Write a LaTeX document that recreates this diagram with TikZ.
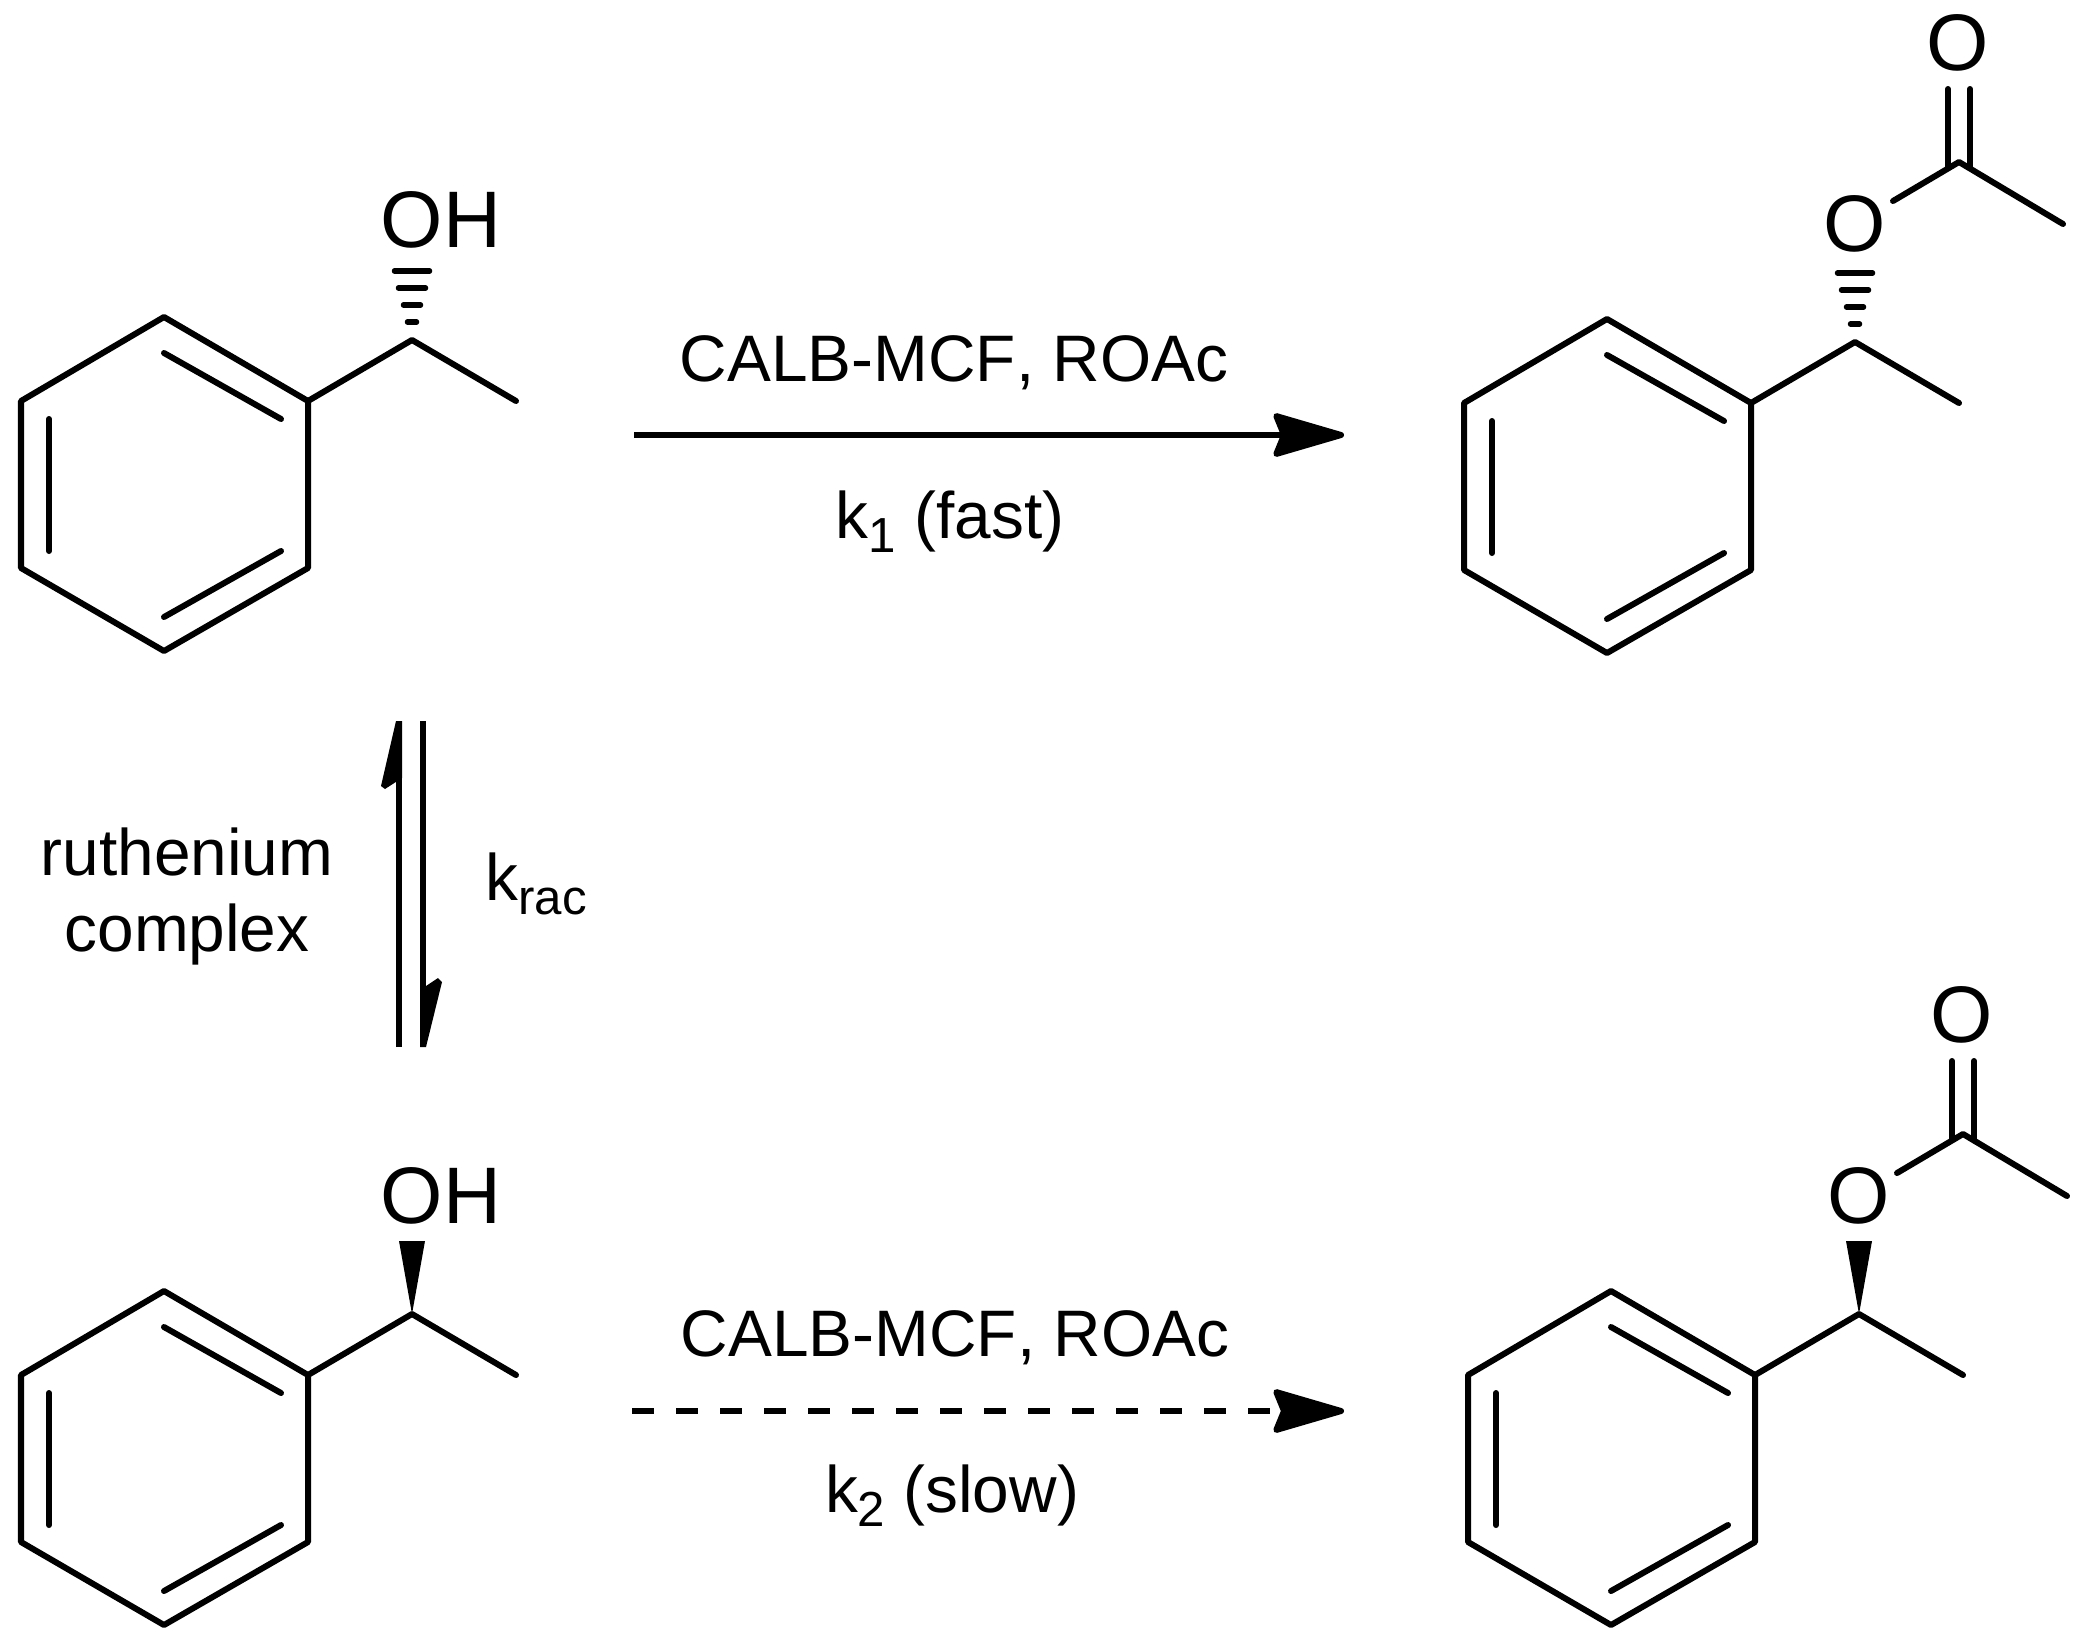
\documentclass[tikz,border=0pt]{standalone}
\usepackage{fontspec}
\setmainfont[Kerning=Off]{Liberation Sans}
\usetikzlibrary{arrows.meta,%
		calc}
\newcommand{\lowtxt}[1]{\raisebox{-.22em}{\fontsize{14}{14}\selectfont #1}}

\begin{document}
\begin{tikzpicture}[x=.01cm,y=-.01cm,
	bond/.style={line width=.06cm,line cap=round,line join=round},
	hashbar/.style={line width=.055cm,line cap=round},
	wedge/.style={fill=black,draw=none},
	atomlabel/.style={font=\fontsize{22.8}{24}\selectfont,inner sep=0pt},
	txtlabel/.style={font=\fontsize{18.7}{24}\selectfont,inner sep=0pt,anchor=base},
	react/.style={line width=.06cm,-{Stealth[length=.8cm,width=.46cm,inset=.09cm,round]}}]
\useasboundingbox (0,0) rectangle (2088,1648);

% ring and side chain
\foreach \dx/\dy in {0/0,1443/2,0/974,1447/974}
{
\begin{scope}[shift={(\dx,\dy)}]
\coordinate (r1) at (164,317);
\coordinate (r2) at (308,401);
\coordinate (r3) at (308,568);
\coordinate (r4) at (164,651);
\coordinate (r5) at (21,568);
\coordinate (r6) at (21,401);
\coordinate (ch) at (412,340);
\coordinate (me) at (516,401);
\draw[bond] (r1) -- (r2) -- (r3) -- (r4) -- (r5) -- (r6) -- cycle;
\draw[bond] (r2) -- (ch) -- (me);
\draw[bond] (164,353) -- (281,419);
\draw[bond] (49,419) -- (49,551);
\draw[bond] (164,617) -- (281,551);
\end{scope}
}

% hashed bonds on top, wedges below
\foreach \dx/\dy in {0/0,1443/2}
{
\begin{scope}[shift={(\dx,\dy)}]
\draw[hashbar] (394.5,271) -- (429.5,271);
\draw[hashbar] (398.5,288) -- (425.5,288);
\draw[hashbar] (403.5,305) -- (420.5,305);
\draw[hashbar] (407.5,322) -- (416.5,322);
\end{scope}
}
\foreach \dx/\dy in {0/974,1447/974}
{
\fill[wedge,shift={(\dx,\dy)}] (412,340) -- (399,267) -- (425,267) -- cycle;
}

% hydroxy groups
\node[atomlabel,anchor=base west] (oha) at (380,247) {OH};
\node[atomlabel,anchor=base west] (ohc) at (380,1223) {OH};

% acetates
\foreach \dx/\dy/\m in {1443/2/b,1447/974/d}
{
\begin{scope}[shift={(\dx,\dy)}]
\node[atomlabel] (oe\m) at (412,222) {O};
\node[atomlabel] (oc\m) at (515,41) {O};
\coordinate (cc\m) at (516,160);
\coordinate (ma\m) at (620,222);
\draw[bond] (450,199) -- (cc\m) -- (ma\m);
\draw[bond] (505,87) -- (505,166);
\draw[bond] (527,87) -- (527,166);
\end{scope}
}

% reactions
\coordinate (ta) at (634,435);
\coordinate (tb) at (1344,435);
\coordinate (ba) at (632,1411);
\coordinate (bb) at (1344,1411);
\draw[react] (ta) -- (tb);
\draw[react,dash pattern=on .22cm off .22cm] (ba) -- (bb);
\node[txtlabel] (reagt) at (954,381) {CALB-MCF, ROAc};
\node[txtlabel] (ratet) at (950,538) {k\lowtxt{1} (fast)};
\node[txtlabel] (reagb) at (955,1356) {CALB-MCF, ROAc};
\node[txtlabel] (rateb) at (952,1512) {k\lowtxt{2} (slow)};

% equilibrium
\coordinate (ua) at (399,1047);
\coordinate (ub) at (399,721);
\coordinate (da) at (423,721);
\coordinate (db) at (423,1047);
\draw[line width=.06cm] (ua) -- (ub);
\draw[line width=.06cm] (da) -- (db);
\fill (402,721) -- (396,721) -- (381,786) -- (385,789) -- (402,778) -- cycle;
\fill (420,1047) -- (426,1047) -- (442,982) -- (438,978) -- (420,990) -- cycle;
\node[txtlabel] (ruth) at (187,875) {ruthenium};
\node[txtlabel] (cplx) at (187,951) {complex};
\node[txtlabel,anchor=base west] (krac) at (485,900) {k\lowtxt{rac}};

\end{tikzpicture}
\end{document}
